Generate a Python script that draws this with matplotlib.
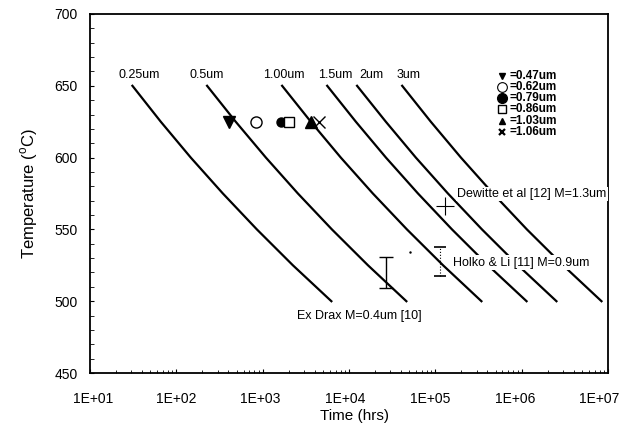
import numpy as np
import matplotlib
matplotlib.use("Agg")
import matplotlib.pyplot as plt
from matplotlib.ticker import FixedLocator, FixedFormatter, LogLocator, MultipleLocator
from matplotlib.transforms import ScaledTranslation

plt.rcParams['font.family'] = ['Liberation Sans', 'DejaVu Sans']
plt.rcParams['mathtext.fontset'] = 'custom'
plt.rcParams['mathtext.rm'] = 'Liberation Sans'

# temperatures (C) at which the curves were read
curve_temps = [650, 625, 600, 575, 550, 525, 500]
# time (hrs) of each constant-size curve at those temperatures
curve_labels = ['0.25um', '0.5um', '1.00um', '1.5um', '2um', '3um']
t_025 = [31, 66, 147, 346, 857, 2240, 6250]
t_05 = [227, 487, 1090, 2560, 6340, 16600, 46200]
t_100 = [1680, 3610, 8040, 18900, 46900, 123000, 342000]
t_15 = [5590, 12000, 26800, 63000, 156000, 408000, 1140000]
t_2 = [12400, 26700, 59500, 140000, 347000, 908000, 2530000]
t_3 = [41300, 88600, 198000, 466000, 1150000, 3020000, 8410000]
curves = [t_025, t_05, t_100, t_15, t_2, t_3]

# measured points at 625 C
meas_labels = ['=0.47um', '=0.62um', '=0.79um', '=0.86um', '=1.03um', '=1.06um']
meas_markers = ['v', 'o', 'o', 's', '^', 'x']
meas_filled = [True, False, True, False, True, True]
meas_times = [403, 832, 1620, 2020, 3610, 4500]
meas_temp = 625

# literature data
drax_time = 27000
drax_temps = [509, 531]
holko_time = 114000
holko_temps = [517.5, 537.5]
dewitte_time = 128000
dewitte_temp = 566
stray_time = 51000
stray_temp = 534

xtick_vals = [1e1, 1e2, 1e3, 1e4, 1e5, 1e6, 1e7]
xtick_labels = ['1E+01', '1E+02', '1E+03', '1E+04', '1E+05', '1E+06', '1E+07']

fig = plt.figure(figsize=(6.19, 4.29), dpi=100)
ax = fig.add_axes([0.1454, 0.1305, 0.8368, 0.8369])

for t in curves:
    ax.plot(t, curve_temps, color='black', lw=1.6, zorder=2)

# curve labels above the top of each curve
label_dx = [1.2, 1.0, 1.05, 1.23, 1.45, 1.2]
for t, lab, f in zip(curves, curve_labels, label_dx):
    ax.text(t[0] * f, 657.5, lab, fontsize=9, ha='center', va='center')

sizes = [8, 8, 6.5, 7, 8, 8]
for t, m, filled, s in zip(meas_times, meas_markers, meas_filled, sizes):
    ax.plot([t], [meas_temp], marker=m, ms=s, mec='black',
            mfc='black' if filled else 'white', mew=1.0, ls='none', zorder=4)

# legend drawn as text block
leg_y = [656.8, 648.9, 641.3, 633.6, 625.5, 618.0]
leg_sizes = [5, 7, 7, 6, 5, 4.5]
leg_mew = [1.0, 0.8, 1.0, 1.0, 1.0, 1.6]
for lab, m, filled, y, s, w in zip(meas_labels, meas_markers, meas_filled, leg_y,
                                   leg_sizes, leg_mew):
    ax.plot([5.9e5], [y], marker=m, ms=s, mec='black',
            mfc='black' if filled else 'white', mew=w, ls='none')
    ax.text(7.2e5, y, lab, fontsize=8.5, fontweight='bold', ha='left', va='center')

# Ex Drax error bar
ax.errorbar([drax_time], [np.mean(drax_temps)], yerr=[[np.mean(drax_temps) - drax_temps[0]],
            [drax_temps[1] - np.mean(drax_temps)]], fmt='none', ecolor='black',
            elinewidth=1.0, capsize=5, capthick=1.0, zorder=4)
# Holko & Li range
ax.plot([holko_time] * 2, holko_temps, ls='none', marker='_', ms=9, mew=1.2,
        color='black', zorder=4)
ax.plot([holko_time] * 2, holko_temps, ls=':', lw=0.8, color='black', zorder=4)
# Dewitte point
ax.plot([dewitte_time], [dewitte_temp], marker='+', ms=13, mew=0.8,
        color='black', ls='none', zorder=4)
ax.plot([stray_time], [stray_temp], marker='.', ms=1.5, color='black', ls='none')

box = dict(facecolor='white', edgecolor='none', pad=1.0)
ax.text(1.79e5, 574.7, 'Dewitte et al [12] M=1.3um', fontsize=9, ha='left',
        va='center', bbox=box, zorder=3, clip_on=True)
ax.text(1.61e5, 526.8, 'Holko & Li [11] M=0.9um', fontsize=9, ha='left',
        va='center', bbox=box, zorder=3)
ax.text(2500, 490, 'Ex Drax M=0.4um [10]', fontsize=9, ha='left', va='center')

ax.set_xscale('log')
ax.set_xlim(1e1, 1e7)
ax.set_ylim(450, 700)
ax.xaxis.set_major_locator(FixedLocator(xtick_vals))
ax.xaxis.set_major_formatter(FixedFormatter(xtick_labels))
ax.xaxis.set_minor_locator(LogLocator(base=10, subs=np.arange(2, 10), numticks=20))
ax.yaxis.set_major_locator(MultipleLocator(50))
ax.yaxis.set_minor_locator(MultipleLocator(10))
ax.tick_params(which='both', direction='in', top=False, right=False, labelsize=10)
ax.tick_params(axis='x', which='major', length=3, pad=14)
ax.tick_params(axis='x', which='minor', length=2)
ax.tick_params(axis='y', which='major', length=3, pad=9)
ax.tick_params(axis='y', which='minor', length=3)
for sp in ax.spines.values():
    sp.set_linewidth(1.3)

# the original tick labels sit a little left of their ticks toward the right
label_shift_px = [3, 0, -2, -4, -5, -6, -9]
for lbl, dx in zip(ax.get_xticklabels(), label_shift_px):
    lbl.set_transform(lbl.get_transform() + ScaledTranslation(dx / 100, 0, fig.dpi_scale_trans))

ax.set_xlabel('Time (hrs)', fontsize=11, labelpad=4)
ax.xaxis.set_label_coords(0.51, -0.1)
ax.set_ylabel(r'Temperature ($^{\mathrm{o}}$C)', fontsize=12, labelpad=10)

fig.savefig('out.png', dpi=100)
